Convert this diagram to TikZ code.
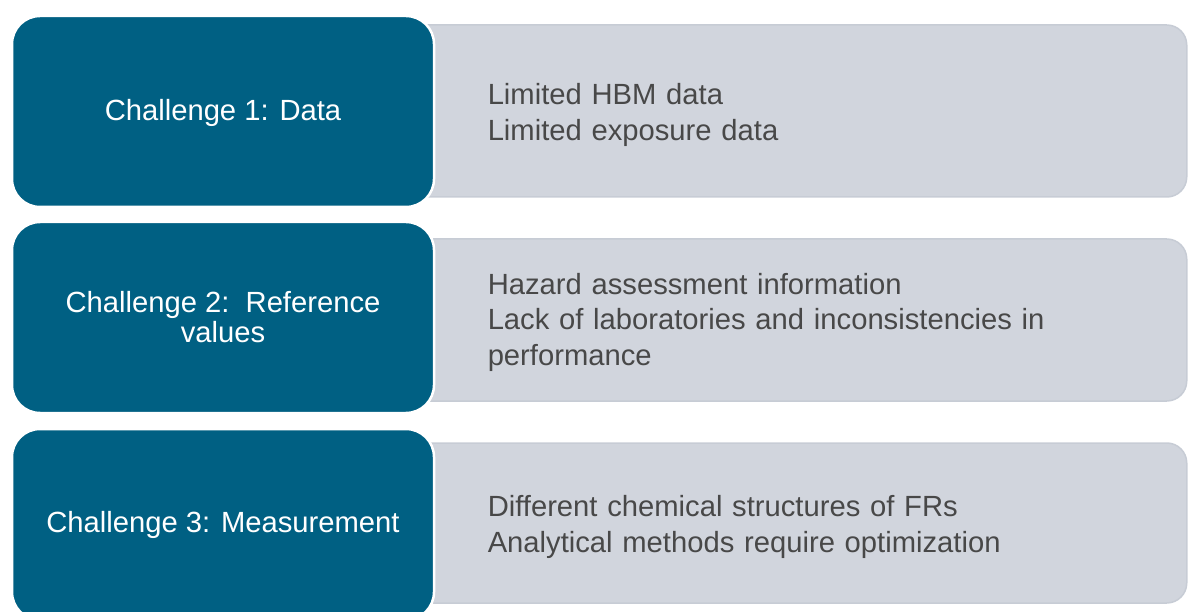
\documentclass[tikz,border=0pt]{standalone}
\usepackage{fontspec}
\setmainfont{Liberation Sans}
\definecolor{chblue}{RGB}{0,96,131}
\definecolor{panelgrey}{RGB}{209,213,221}
\definecolor{panelline}{RGB}{199,204,213}
\definecolor{bodytext}{RGB}{72,72,72}
\begin{document}
\begin{tikzpicture}[x=1pt,y=-1pt,
  challenge/.style={rectangle, rounded corners=28pt, fill=chblue, draw=white,
    line width=2.5pt, minimum width=422pt, minimum height=191pt, text=white,
    align=center, inner sep=0pt, font=\fontsize{29.2}{30}\selectfont},
  detail/.style={rectangle, rounded corners=20pt, fill=panelgrey, draw=panelline,
    line width=1.5pt, anchor=east, minimum width=788pt, inner xsep=89pt,
    text width=610pt, align=left, text=bodytext,
    font=\fontsize{29.2}{35.5}\selectfont},
  % taller first line, so the text block sits a little lower in its panel
  firstline/.style={execute at begin node={\rule{0pt}{#1}}}]
\useasboundingbox (0,0) rectangle (1189,612);
\clip (0,0) rectangle (1189,612);

% grey detail panels (left part sits under the blue boxes)
\node[detail, firstline=29.5pt, minimum height=172pt] (d1) at (1187.5,111)
  {Limited HBM data\\Limited exposure data};
\node[detail, firstline=25.5pt, minimum height=162pt] (d2) at (1187.5,320)
  {Hazard assessment information\\Lack of laboratories and inconsistencies in\\performance};
\node[detail, firstline=29.5pt, minimum height=160pt] (d3) at (1187.5,523)
  {Different chemical structures of FRs\\Analytical methods require optimization};

% blue challenge boxes
\node[challenge, firstline=25pt] (c1) at (223,111.5) {Challenge 1: Data};
\node[challenge] (c2) at (223,317.5) {Challenge 2:\ \ Reference\\values};
\node[challenge] (c3) at (223,524.5) {Challenge 3: Measurement};
\end{tikzpicture}
\end{document}
